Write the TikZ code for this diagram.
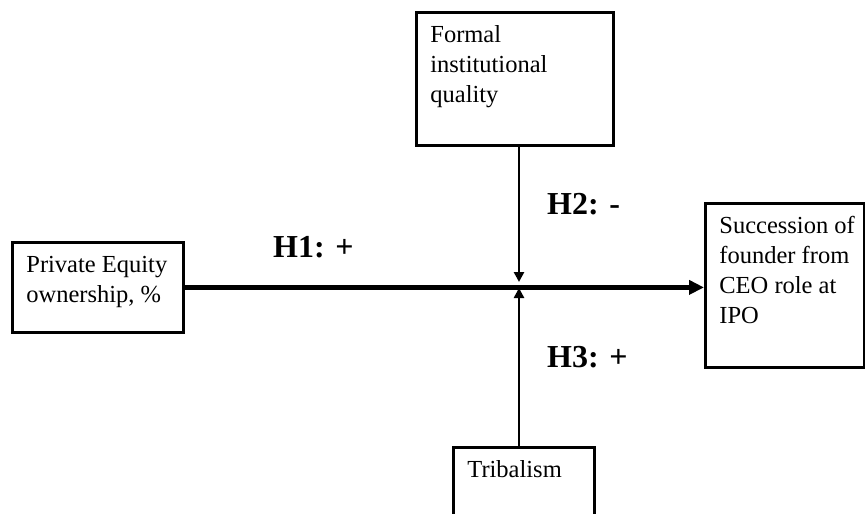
\documentclass[tikz,border=0pt]{standalone}
\usepackage{fontspec}
\setmainfont{Liberation Serif}
\usetikzlibrary{arrows.meta}
\newcommand{\bxtext}[3]{\parbox[t][#2][t]{#1}{\raggedright\leftskip=14pt\relax\rule{0pt}{30pt}#3}}
\tikzset{
  bx/.style={draw, line width=2.8pt, inner sep=0pt, anchor=north west,
    font=\fontsize{24.5}{30}\selectfont},
  hyp/.style={inner sep=0pt, anchor=base west, font=\fontsize{32}{38}\selectfont\bfseries},
  mainarrow/.style={line width=5pt, -{Triangle[length=15pt,width=14pt]}},
  modarrow/.style={line width=2.7pt, -{Triangle[length=10pt,width=10pt]}}
}
\begin{document}
\begin{tikzpicture}[x=1pt,y=-1pt]
\useasboundingbox[fill=white] (0,0) rectangle (865,514);
\node[bx] (formal) at (415,11) {\bxtext{197pt}{133pt}{Formal\\institutional\\quality}};
\node[bx] (pe) at (11,241) {\bxtext{171pt}{90pt}{Private Equity\\ownership, \%}};
\node[bx] (succ) at (704,202) {\bxtext{159pt}{164pt}{Succession of\\founder from\\CEO role at\\IPO}};
\node[bx] (trib) at (452,446) {\bxtext{141pt}{110pt}{Tribalism}};
\coordinate (ctop) at (519,282);
\coordinate (cbot) at (519,288);
\draw[mainarrow] (pe.east) -- (succ.west |- pe.east);
\draw[modarrow] (formal.south -| ctop) -- (ctop);
\draw[modarrow] (trib.north -| cbot) -- (cbot);
\node[hyp] (h1) at (273,257) {H1: +};
\node[hyp] (h2) at (547,214) {H2: -};
\node[hyp] (h3) at (547,367) {H3: +};
\end{tikzpicture}
\end{document}
